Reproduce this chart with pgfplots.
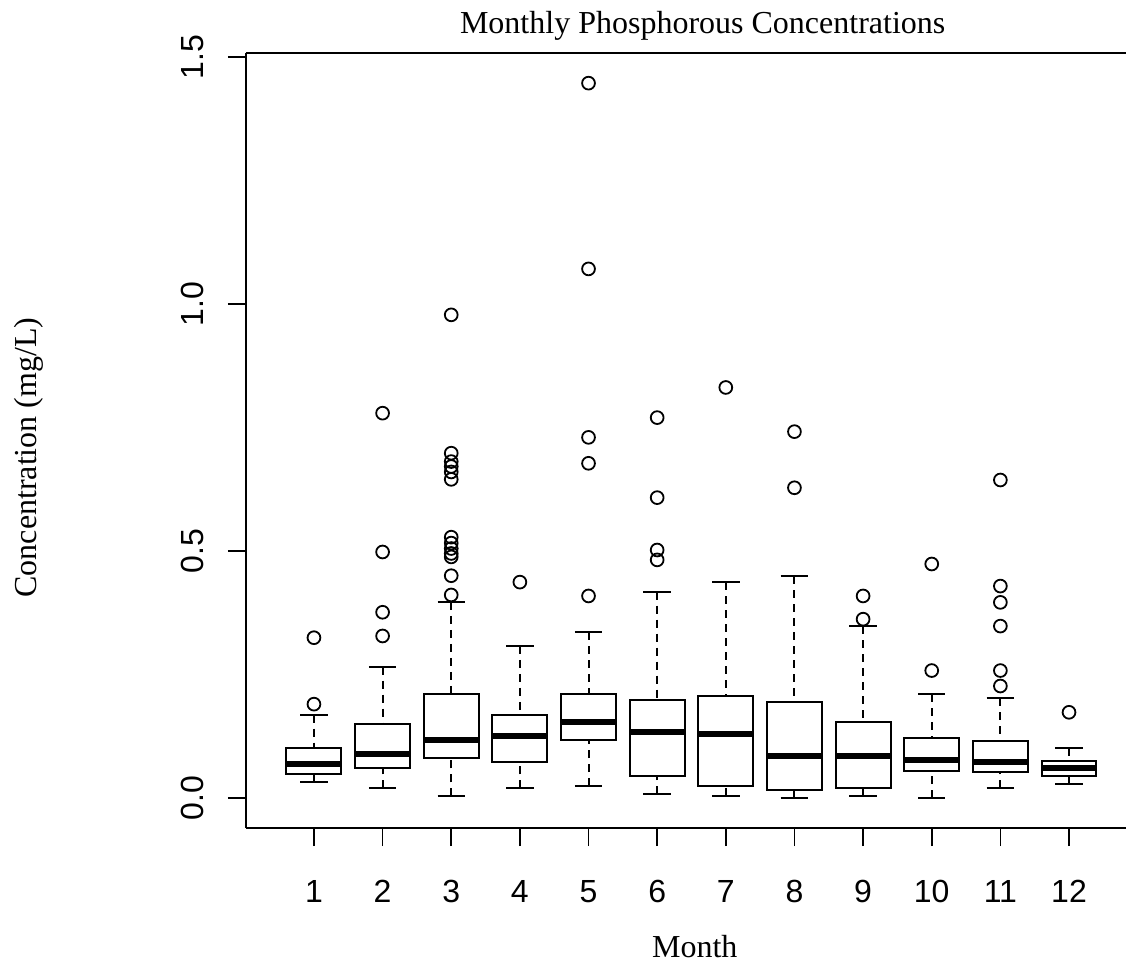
\documentclass[border=0pt]{standalone}
\usepackage{fontspec}
\setmainfont{Liberation Serif}
\newfontfamily\arialfont{Liberation Sans}
\usepackage{pgfplots}
\usepgfplotslibrary{statistics}
\pgfplotsset{compat=1.18}
\begin{document}
\begin{tikzpicture}
\begin{axis}[
  scale only axis,
  width=440pt, height=387.5pt,
  xmin=0.01, xmax=12.83,
  ymin=-0.0607, ymax=1.508,
  axis x line*=box, axis y line*=left,
  axis line style={line width=0.8pt, black},
  xtick={1,2,3,4,5,6,7,8,9,10,11,12},
  xticklabels={1,2,3,4,5,6,7,8,9,10,11,12},
  ytick={0,0.5,1,1.5},
  yticklabels={0.0,0.5,1.0,1.5},
  xtick pos=left, ytick pos=left,
  tick align=outside,
  major tick length=9pt,
  tick style={black, line width=0.8pt},
  xticklabel shift=28pt,
  yticklabel shift=12pt,
  xticklabel style={font=\arialfont\fontsize{16}{19}\selectfont, anchor=base, inner sep=0pt},
  yticklabel style={font=\arialfont\fontsize{16}{19}\selectfont, rotate=90, anchor=south, inner sep=0pt},
  title={Monthly Phosphorous Concentrations},
  title style={font=\fontsize{16}{19}\selectfont, at={(axis description cs:0.519,1.0103)}, anchor=base, inner sep=0pt},
  xlabel={Month},
  xlabel style={font=\fontsize{16}{19}\selectfont, at={(axis description cs:0.510,-0.1665)}, anchor=base, inner sep=0pt},
  ylabel={Concentration (mg/L)},
  ylabel style={font=\fontsize{16}{19}\selectfont, at={(axis description cs:-0.2375,0.478)}, anchor=base, rotate=0, inner sep=0pt},
  boxplot/draw direction=y,
  boxplot/box extend=0.8,
  boxplot/whisker extend=0.4,
  boxplot/every median/.style={line width=3pt},
  boxplot/draw/lower whisker/.code={%
    \draw[dash pattern=on 4pt off 3pt]
      (boxplot box cs:\pgfplotsboxplotvalue{lower whisker},0.5) --
      (boxplot box cs:\pgfplotsboxplotvalue{lower quartile},0.5);
    \draw[solid]
      (boxplot whisker cs:\pgfplotsboxplotvalue{lower whisker},0) --
      (boxplot whisker cs:\pgfplotsboxplotvalue{lower whisker},1);
  },
  boxplot/draw/upper whisker/.code={%
    \draw[dash pattern=on 4pt off 3pt]
      (boxplot box cs:\pgfplotsboxplotvalue{upper whisker},0.5) --
      (boxplot box cs:\pgfplotsboxplotvalue{upper quartile},0.5);
    \draw[solid]
      (boxplot whisker cs:\pgfplotsboxplotvalue{upper whisker},0) --
      (boxplot whisker cs:\pgfplotsboxplotvalue{upper whisker},1);
  },
  every axis plot/.append style={black, line width=1pt, mark=o, mark size=3.2pt, mark options={solid, line width=0.9pt}},
]
\coordinate (bbsw) at (rel axis cs:0,0);
\coordinate (bbne) at (rel axis cs:1,1);
% Month 1
\addplot[boxplot prepared={draw position=1, lower whisker=0.032, lower quartile=0.048, median=0.068, upper quartile=0.1006, upper whisker=0.169}]
  coordinates {(0,0.190) (0,0.3245)};
% Month 2
\addplot[boxplot prepared={draw position=2, lower whisker=0.0196, lower quartile=0.060, median=0.0884, upper quartile=0.149, upper whisker=0.266}]
  coordinates {(0,0.328) (0,0.376) (0,0.498) (0,0.779)};
% Month 3
\addplot[boxplot prepared={draw position=3, lower whisker=0.0034, lower quartile=0.080, median=0.1174, upper quartile=0.2105, upper whisker=0.397}]
  coordinates {(0,0.411) (0,0.450) (0,0.488) (0,0.495) (0,0.505) (0,0.516) (0,0.528) (0,0.645) (0,0.660) (0,0.671) (0,0.681) (0,0.698) (0,0.978)};
% Month 4
\addplot[boxplot prepared={draw position=4, lower whisker=0.0196, lower quartile=0.0723, median=0.1255, upper quartile=0.169, upper whisker=0.308}]
  coordinates {(0,0.437)};
% Month 5
\addplot[boxplot prepared={draw position=5, lower whisker=0.0243, lower quartile=0.1174, median=0.153, upper quartile=0.2105, upper whisker=0.336}]
  coordinates {(0,0.409) (0,0.6775) (0,0.730) (0,1.071) (0,1.447)};
% Month 6
\addplot[boxplot prepared={draw position=6, lower whisker=0.008, lower quartile=0.0445, median=0.133, upper quartile=0.198, upper whisker=0.4177}]
  coordinates {(0,0.482) (0,0.502) (0,0.608) (0,0.770)};
% Month 7
\addplot[boxplot prepared={draw position=7, lower whisker=0.004, lower quartile=0.0243, median=0.1296, upper quartile=0.2065, upper whisker=0.437}]
  coordinates {(0,0.831)};
% Month 8
\addplot[boxplot prepared={draw position=8, lower whisker=0.0, lower quartile=0.0155, median=0.085, upper quartile=0.195, upper whisker=0.449}]
  coordinates {(0,0.628) (0,0.7416)};
% Month 9
\addplot[boxplot prepared={draw position=9, lower whisker=0.004, lower quartile=0.0196, median=0.085, upper quartile=0.153, upper whisker=0.348}]
  coordinates {(0,0.362) (0,0.409)};
% Month 10
\addplot[boxplot prepared={draw position=10, lower whisker=0.0, lower quartile=0.0553, median=0.0769, upper quartile=0.121, upper whisker=0.2105}]
  coordinates {(0,0.258) (0,0.4737)};
% Month 11
\addplot[boxplot prepared={draw position=11, lower whisker=0.0196, lower quartile=0.052, median=0.0723, upper quartile=0.116, upper whisker=0.2018}]
  coordinates {(0,0.2267) (0,0.258) (0,0.348) (0,0.396) (0,0.429) (0,0.6437)};
% Month 12
\addplot[boxplot prepared={draw position=12, lower whisker=0.0283, lower quartile=0.0445, median=0.060, upper quartile=0.0755, upper whisker=0.1006}]
  coordinates {(0,0.1735)};
\end{axis}
\pgfresetboundingbox
\path[use as bounding box] ([xshift=-123pt,yshift=-69pt]bbsw) rectangle ([yshift=26.5pt]bbne);
\end{tikzpicture}
\end{document}
